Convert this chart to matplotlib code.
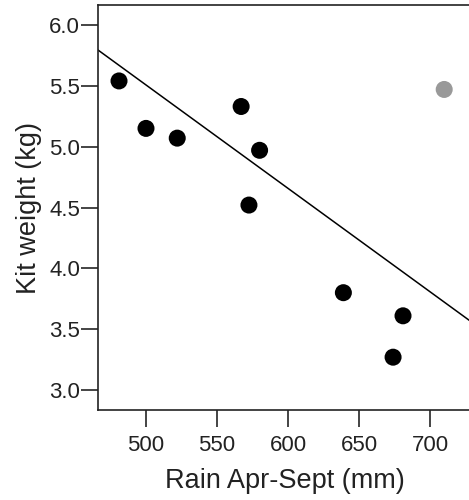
import matplotlib
matplotlib.use("Agg")
import matplotlib.pyplot as plt
import numpy as np

plt.rcParams['font.family'] = ['Liberation Sans', 'DejaVu Sans']

# rainfall (mm) vs kit weight (kg)
rain = [481, 500, 522, 567, 580, 572.5, 639, 681, 674]
kit_weight = [5.54, 5.15, 5.07, 5.33, 4.97, 4.52, 3.80, 3.61, 3.27]
# outlier year, drawn in grey
rain_out = [710]
kit_out = [5.47]
# fitted line
fit_intercept = 9.755
fit_slope = -0.008496

fig = plt.figure(figsize=(4.69, 5.0), dpi=100)
ax = fig.add_axes([98/469, 90/500, 374/469, 405/500])

ax.scatter(rain, kit_weight, s=150, c='black', edgecolors='none', zorder=3)
ax.scatter(rain_out, kit_out, s=150, c='#999999', edgecolors='none', zorder=3)

xlim = (466.2, 466.2 + 374/1.42)
xs = np.array(xlim)
ax.plot(xs, fit_intercept + fit_slope*xs, color='black', lw=1.1)

ax.set_xlim(xlim)
ax.set_ylim(2.836, 6.164)
ax.set_xticks([500, 550, 600, 650, 700])
ax.set_yticks([3.0, 3.5, 4.0, 4.5, 5.0, 5.5, 6.0])
ax.set_yticklabels(['3.0', '3.5', '4.0', '4.5', '5.0', '5.5', '6.0'])
ax.tick_params(direction='out', length=12, width=1.4, color='#444444',
               labelsize=16, labelcolor='#222222')
ax.tick_params(axis='y', pad=1)
ax.tick_params(axis='x', pad=6)
for s in ax.spines.values():
    s.set_linewidth(1.2)
    s.set_color('#222222')

ax.set_xlabel('Rain Apr-Sept (mm)', fontsize=19.5, color='#222222', labelpad=9)
ax.set_ylabel('Kit weight (kg)', fontsize=19.5, color='#222222', labelpad=5)

fig.savefig('out.png', dpi=100)
